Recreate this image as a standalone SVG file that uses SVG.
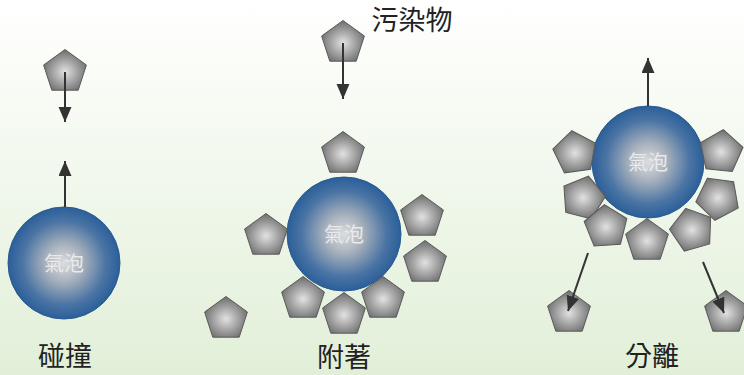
<svg xmlns="http://www.w3.org/2000/svg" xmlns:xlink="http://www.w3.org/1999/xlink" width="744" height="375" viewBox="0 0 744 375">
<defs>
<linearGradient id="bg" x1="0" y1="0" x2="0" y2="1">
<stop offset="0" stop-color="#ffffff"/>
<stop offset="0.15" stop-color="#fbfdf9"/>
<stop offset="1" stop-color="#e1efd8"/>
</linearGradient>
<radialGradient id="bub" cx="0.5" cy="0.5" r="0.5">
<stop offset="0" stop-color="#dcdee0"/>
<stop offset="0.35" stop-color="#a5afbb"/>
<stop offset="0.75" stop-color="#4a74a4"/>
<stop offset="1" stop-color="#2b5f9a"/>
</radialGradient>
<radialGradient id="pg" cx="0.5" cy="0.55" r="0.55">
<stop offset="0" stop-color="#e2e2e2"/>
<stop offset="0.5" stop-color="#a6a6a6"/>
<stop offset="1" stop-color="#6c6c6c"/>
</radialGradient>
<path id="pent" d="M0,-22.5 L21.4,-7 L13.2,18.2 L-13.2,18.2 L-21.4,-7 Z"/>
<marker id="ah" markerUnits="userSpaceOnUse" markerWidth="16" markerHeight="14" refX="15" refY="6.5" orient="auto">
<path d="M0,0 L15,6.5 L0,13 Z" fill="#333"/>
</marker>
</defs>
<style>
.p{fill:url(#pg);stroke:#5a5a5a;stroke-width:1}
.b{fill:url(#bub);stroke:#2a5a90;stroke-width:1}
.bt{font-family:"Noto Sans CJK TC","Noto Sans CJK SC",sans-serif;font-size:20px;fill:#eaeaea;text-anchor:middle}
.lb{font-family:"Noto Sans CJK TC","Noto Sans CJK SC",sans-serif;font-size:27px;fill:#222;text-anchor:middle}
.ar{stroke:#333;stroke-width:2;fill:none;marker-end:url(#ah)}
</style>
<rect width="744" height="375" fill="url(#bg)"/>

<!-- Left panel: collision -->
<g id="p-left-top"><use href="#pent" class="p" transform="translate(65,72)"/></g>
<g id="bubble-left"><circle cx="64" cy="263" r="56" class="b"/><text x="64" y="271" class="bt">氣泡</text></g>
<g id="label-left"><text x="65" y="366" class="lb">碰撞</text></g>

<!-- Middle panel: attachment -->
<g id="label-pollutant"><text x="412" y="30" class="lb">污染物</text></g>
<g id="p-mid-top"><use href="#pent" class="p" transform="translate(343,43)"/></g>
<g id="bubble-mid"><circle cx="344" cy="234" r="57" class="b"/><text x="344" y="242" class="bt">氣泡</text></g>
<g id="p-mid-1"><use href="#pent" class="p" transform="translate(343,154)"/></g>
<g id="p-mid-2"><use href="#pent" class="p" transform="translate(266,236)"/></g>
<g id="p-mid-3"><use href="#pent" class="p" transform="translate(422,217)"/></g>
<g id="p-mid-4"><use href="#pent" class="p" transform="translate(425,263)"/></g>
<g id="p-mid-5"><use href="#pent" class="p" transform="translate(303,299)"/></g>
<g id="p-mid-7"><use href="#pent" class="p" transform="translate(383,299)"/></g>
<g id="p-mid-6"><use href="#pent" class="p" transform="translate(344,315)"/></g>
<g id="p-mid-free"><use href="#pent" class="p" transform="translate(226,319)"/></g>
<g id="label-mid"><text x="344" y="367" class="lb">附著</text></g>

<!-- Right panel: separation -->
<g id="bubble-right"><circle cx="648" cy="162" r="56" class="b"/><text x="648" y="170" class="bt">氣泡</text></g>
<g id="p-r-1"><use href="#pent" class="p" transform="translate(575,153) rotate(-8)"/></g>
<g id="p-r-2"><use href="#pent" class="p" transform="translate(583,198) rotate(14)"/></g>
<g id="p-r-3"><use href="#pent" class="p" transform="translate(606,227) rotate(-4)"/></g>
<g id="p-r-4"><use href="#pent" class="p" transform="translate(647,241)"/></g>
<g id="p-r-5"><use href="#pent" class="p" transform="translate(692,230) rotate(-16)"/></g>
<g id="p-r-6"><use href="#pent" class="p" transform="translate(718,198) rotate(-28)"/></g>
<g id="p-r-7"><use href="#pent" class="p" transform="translate(721,152) rotate(6)"/></g>
<g id="p-r-free-l"><use href="#pent" class="p" transform="translate(569,313)"/></g>
<g id="p-r-free-r"><use href="#pent" class="p" transform="translate(726,313)"/></g>
<g id="label-right"><text x="652" y="366" class="lb">分離</text></g>

<g id="connectors">
<line class="ar" x1="65" y1="72" x2="65" y2="122"/>
<line class="ar" x1="65" y1="207" x2="65" y2="161"/>
<line class="ar" x1="343" y1="43" x2="343" y2="99"/>
<line class="ar" x1="648" y1="106" x2="648" y2="58"/>
<line class="ar" x1="588" y1="253" x2="568" y2="311"/>
<line class="ar" x1="703" y1="262" x2="724" y2="313"/>
</g>
</svg>
